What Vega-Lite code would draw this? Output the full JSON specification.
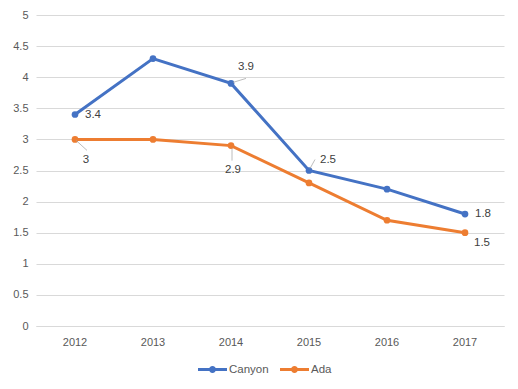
{
  "$schema": "https://vega.github.io/schema/vega-lite/v6.json",
  "width": 468,
  "height": 311,
  "autosize": "none",
  "padding": {"left": 36, "top": 15, "right": 14, "bottom": 63},
  "background": "#ffffff",
  "config": {
    "view": {"stroke": null},
    "font": "Liberation Sans",
    "axis": {"labelFont": "Liberation Sans", "labelFontSize": 11, "labelColor": "#595959", "title": null, "ticks": false},
    "legend": {"labelFont": "Liberation Sans", "labelFontSize": 11.5, "labelColor": "#595959"}
  },
  "data": {
    "values": [
      {"year": "2012", "series": "Canyon", "value": 3.4},
      {"year": "2013", "series": "Canyon", "value": 4.3},
      {"year": "2014", "series": "Canyon", "value": 3.9},
      {"year": "2015", "series": "Canyon", "value": 2.5},
      {"year": "2016", "series": "Canyon", "value": 2.2},
      {"year": "2017", "series": "Canyon", "value": 1.8},
      {"year": "2012", "series": "Ada", "value": 3.0},
      {"year": "2013", "series": "Ada", "value": 3.0},
      {"year": "2014", "series": "Ada", "value": 2.9},
      {"year": "2015", "series": "Ada", "value": 2.3},
      {"year": "2016", "series": "Ada", "value": 1.7},
      {"year": "2017", "series": "Ada", "value": 1.5}
    ]
  },
  "encoding": {
    "x": {"field": "year", "type": "ordinal", "axis": {"labelAngle": 0, "domainColor": "#D9D9D9", "labelPadding": 10, "grid": false}},
    "y": {"field": "value", "type": "quantitative", "scale": {"domain": [0, 5], "nice": false}, "axis": {"values": [0, 0.5, 1, 1.5, 2, 2.5, 3, 3.5, 4, 4.5, 5], "format": ".1~f", "domain": false, "gridColor": "#D9D9D9", "labelPadding": 8}}
  },
  "layer": [
    {
      "mark": {"type": "line", "strokeWidth": 3},
      "encoding": {
        "color": {
          "field": "series", "type": "nominal",
          "scale": {"domain": ["Canyon", "Ada"], "range": ["#4472C4", "#ED7D31"]},
          "legend": {
            "title": null, "orient": "none", "direction": "horizontal", "legendX": 162, "legendY": 340,
            "symbolType": "M-1,-0.1H1V0.1H-1Z M0.24,0 A0.24,0.24 0 1 1 -0.24,0 A0.24,0.24 0 1 1 0.24,0Z",
            "symbolSize": 841, "symbolStrokeWidth": 0, "labelOffset": 2, "columnPadding": 11,
            "encode": {"symbols": {"update": {"fill": {"scale": "color", "field": "value"}, "strokeWidth": {"value": 0}}}}
          }
        }
      }
    },
    {
      "mark": {"type": "point", "filled": true, "size": 45, "opacity": 1},
      "encoding": {"color": {"field": "series", "type": "nominal", "legend": null}}
    },
    {
      "transform": [{"filter": "(datum.series == 'Canyon' && datum.year == '2014')"}],
      "mark": {"type": "rule", "color": "#A6A6A6", "strokeWidth": 0.75, "xOffset": 2, "yOffset": -1, "x2Offset": 15, "y2Offset": -5},
      "encoding": {"x2": {"field": "year"}, "y2": {"field": "value"}}
    },
    {
      "transform": [{"filter": "(datum.series == 'Canyon' && datum.year == '2015')"}],
      "mark": {"type": "rule", "color": "#A6A6A6", "strokeWidth": 0.75, "xOffset": 1, "yOffset": -2, "x2Offset": 6, "y2Offset": -11},
      "encoding": {"x2": {"field": "year"}, "y2": {"field": "value"}}
    },
    {
      "transform": [{"filter": "(datum.series == 'Ada' && datum.year == '2012')"}],
      "mark": {"type": "rule", "color": "#A6A6A6", "strokeWidth": 0.75, "xOffset": 1, "yOffset": 1, "x2Offset": 12, "y2Offset": 11},
      "encoding": {"x2": {"field": "year"}, "y2": {"field": "value"}}
    },
    {
      "transform": [{"filter": "(datum.series == 'Ada' && datum.year == '2014')"}],
      "mark": {"type": "rule", "color": "#A6A6A6", "strokeWidth": 0.75, "xOffset": 1, "yOffset": 3, "x2Offset": 1, "y2Offset": 15},
      "encoding": {"x2": {"field": "year"}, "y2": {"field": "value"}}
    },
    {
      "transform": [{"filter": "(datum.series == 'Canyon' && (datum.year == '2012' || datum.year == '2017'))"}],
      "mark": {"type": "text", "dx": 18, "dy": 0, "fontSize": 11.5, "color": "#404040", "font": "Liberation Sans"},
      "encoding": {"text": {"field": "value", "type": "quantitative", "format": ".1~f"}}
    },
    {
      "transform": [{"filter": "(datum.series == 'Canyon' && datum.year == '2014')"}],
      "mark": {"type": "text", "dx": 15, "dy": -16, "fontSize": 11.5, "color": "#404040", "font": "Liberation Sans"},
      "encoding": {"text": {"field": "value", "type": "quantitative", "format": ".1~f"}}
    },
    {
      "transform": [{"filter": "(datum.series == 'Canyon' && datum.year == '2015')"}],
      "mark": {"type": "text", "dx": 19, "dy": -11, "fontSize": 11.5, "color": "#404040", "font": "Liberation Sans"},
      "encoding": {"text": {"field": "value", "type": "quantitative", "format": ".1~f"}}
    },
    {
      "transform": [{"filter": "(datum.series == 'Ada' && datum.year == '2012')"}],
      "mark": {"type": "text", "dx": 11, "dy": 21, "fontSize": 11.5, "color": "#404040", "font": "Liberation Sans"},
      "encoding": {"text": {"field": "value", "type": "quantitative", "format": ".1~f"}}
    },
    {
      "transform": [{"filter": "(datum.series == 'Ada' && datum.year == '2014')"}],
      "mark": {"type": "text", "dx": 2, "dy": 24, "fontSize": 11.5, "color": "#404040", "font": "Liberation Sans"},
      "encoding": {"text": {"field": "value", "type": "quantitative", "format": ".1~f"}}
    },
    {
      "transform": [{"filter": "(datum.series == 'Ada' && datum.year == '2017')"}],
      "mark": {"type": "text", "dx": 17, "dy": 10, "fontSize": 11.5, "color": "#404040", "font": "Liberation Sans"},
      "encoding": {"text": {"field": "value", "type": "quantitative", "format": ".1~f"}}
    }
  ]
}
